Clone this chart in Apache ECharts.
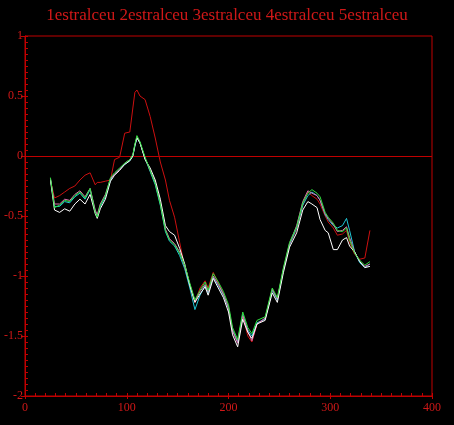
<!DOCTYPE html>
<html><head><meta charset="utf-8">
<script src="https://cdn.jsdelivr.net/npm/echarts@6/dist/echarts.min.js"></script>
<style>html,body{margin:0;padding:0;background:#000;}#c{width:454px;height:425px;}</style>
</head><body><div id="c"></div>
<script>
const titleText = "1estralceu 2estralceu 3estralceu 4estralceu 5estralceu";
const xTicks = [0, 100, 200, 300, 400];
const yTicks = [-2, -1.5, -1, -0.5, 0, 0.5, 1];
const days = [25,29,34,39,44,49,54,59,64,69,71,74,79,84,88,93,98,103,106,108,110,113,118,123,128,133,138,142,147,152,157,162,167,172,177,180,185,190,195,200,204,209,214,219,223,228,236,243,248,254,260,267,273,278,282,287,290,295,298,303,307,312,316,319,324,329,334,339];
const s1 = [-0.20,-0.35,-0.33,-0.30,-0.27,-0.25,-0.20,-0.16,-0.14,-0.24,-0.22,-0.22,-0.21,-0.20,-0.03,-0.01,0.19,0.20,0.40,0.53,0.55,0.50,0.47,0.33,0.15,-0.05,-0.20,-0.37,-0.51,-0.72,-0.93,-1.08,-1.22,-1.10,-1.04,-1.10,-0.97,-1.06,-1.15,-1.27,-1.45,-1.55,-1.33,-1.50,-1.55,-1.40,-1.36,-1.12,-1.19,-0.95,-0.74,-0.61,-0.41,-0.30,-0.33,-0.36,-0.40,-0.50,-0.55,-0.60,-0.66,-0.65,-0.62,-0.72,-0.82,-0.86,-0.85,-0.62];
const s2 = [-0.19,-0.42,-0.42,-0.38,-0.39,-0.34,-0.31,-0.36,-0.28,-0.46,-0.50,-0.42,-0.34,-0.20,-0.15,-0.11,-0.07,-0.04,0.00,0.08,0.15,0.11,-0.02,-0.13,-0.24,-0.41,-0.63,-0.71,-0.75,-0.83,-0.94,-1.10,-1.28,-1.16,-1.08,-1.14,-1.01,-1.08,-1.16,-1.27,-1.45,-1.55,-1.32,-1.45,-1.50,-1.39,-1.36,-1.12,-1.20,-0.95,-0.74,-0.60,-0.41,-0.33,-0.30,-0.33,-0.37,-0.49,-0.53,-0.58,-0.60,-0.58,-0.52,-0.62,-0.80,-0.89,-0.93,-0.90];
const s3 = [-0.18,-0.43,-0.41,-0.37,-0.38,-0.33,-0.30,-0.35,-0.27,-0.47,-0.51,-0.41,-0.33,-0.18,-0.14,-0.10,-0.06,-0.03,0.01,0.10,0.17,0.12,-0.01,-0.12,-0.23,-0.40,-0.62,-0.70,-0.74,-0.81,-0.91,-1.06,-1.20,-1.12,-1.05,-1.12,-0.98,-1.05,-1.13,-1.24,-1.43,-1.53,-1.30,-1.43,-1.48,-1.37,-1.34,-1.10,-1.18,-0.93,-0.72,-0.59,-0.39,-0.31,-0.28,-0.31,-0.34,-0.47,-0.51,-0.56,-0.62,-0.63,-0.60,-0.70,-0.81,-0.87,-0.91,-0.88];
const s4 = [-0.20,-0.45,-0.47,-0.44,-0.46,-0.40,-0.36,-0.40,-0.32,-0.48,-0.52,-0.44,-0.36,-0.21,-0.16,-0.12,-0.07,-0.04,0.00,0.09,0.15,0.11,-0.03,-0.10,-0.20,-0.36,-0.58,-0.63,-0.66,-0.77,-0.90,-1.08,-1.22,-1.15,-1.09,-1.16,-1.02,-1.10,-1.18,-1.30,-1.49,-1.59,-1.36,-1.47,-1.52,-1.40,-1.37,-1.14,-1.22,-0.97,-0.76,-0.64,-0.45,-0.38,-0.40,-0.43,-0.53,-0.62,-0.64,-0.78,-0.78,-0.70,-0.68,-0.75,-0.80,-0.88,-0.93,-0.92];
const s5 = [-0.19,-0.40,-0.40,-0.36,-0.37,-0.32,-0.29,-0.34,-0.27,-0.45,-0.49,-0.40,-0.32,-0.19,-0.15,-0.11,-0.06,-0.03,0.01,0.09,0.16,0.11,-0.02,-0.12,-0.22,-0.39,-0.61,-0.69,-0.73,-0.80,-0.92,-1.07,-1.21,-1.13,-1.07,-1.13,-1.00,-1.07,-1.15,-1.26,-1.46,-1.56,-1.33,-1.46,-1.54,-1.40,-1.35,-1.11,-1.19,-0.94,-0.73,-0.58,-0.38,-0.29,-0.31,-0.33,-0.37,-0.48,-0.52,-0.57,-0.63,-0.62,-0.59,-0.68,-0.80,-0.88,-0.92,-0.90];

const seriesNames = ["1estralceu","2estralceu","3estralceu","4estralceu","5estralceu"];
const seriesVals = [s1, s2, s5, s4, s3];
const seriesColors = ["#cc1010", "#20c8d8", "#e070b0", "#ffffff", "#30e040"];
const axisRed = "#c00000";
const textRed = "#d01818";
const font = "'Liberation Serif', 'DejaVu Serif', serif";

const xMin = xTicks[0], xMax = xTicks[xTicks.length-1];
const yMin = yTicks[0], yMax = yTicks[yTicks.length-1];

const chart = echarts.init(document.getElementById('c'), null, {renderer: 'canvas'});
const series = seriesVals.map((vals, i) => ({
  name: seriesNames[i], type: 'line', showSymbol: false, symbol: 'none',
  xAxisIndex: 0, yAxisIndex: 0,
  data: days.map((d, j) => [d, vals[j]]),
  lineStyle: {color: seriesColors[i], width: 1},
  itemStyle: {color: seriesColors[i]},
  animation: false, z: 3 + i
}));
series.push({
  type: 'line', data: [], animation: false, xAxisIndex: 0, yAxisIndex: 0,
  markLine: {silent: true, symbol: 'none', label: {show: false}, animation: false,
    lineStyle: {color: axisRed, width: 1, type: 'solid'}, data: [{yAxis: 0}]}
});
// dummy series bound to the tick-only axes so they are laid out
series.push({type: 'line', data: [[xMin, yMin]], xAxisIndex: 1, yAxisIndex: 1,
  showSymbol: false, symbol: 'none', lineStyle: {opacity: 0}, animation: false, silent: true});

function tickAxis(pos, min, max, interval, len, offset) {
  return {type: 'value', position: pos, offset: offset, min: min, max: max, interval: interval,
    axisLine: {show: false, onZero: false},
    axisTick: {show: true, inside: false, length: len, lineStyle: {color: axisRed, width: 1}},
    splitLine: {show: false}, axisLabel: {show: false}};
}
chart.setOption({
  backgroundColor: '#000',
  animation: false,
  title: {text: titleText, left: 'center', top: 2,
    textStyle: {color: textRed, fontFamily: font, fontWeight: 'normal', fontSize: 17}},
  grid: {left: 25, right: 22, top: 36, bottom: 29, show: true, borderColor: axisRed, borderWidth: 1, backgroundColor: 'transparent'},
  xAxis: [{type: 'value', min: xMin, max: xMax, interval: 100,
    axisLine: {show: true, onZero: false, lineStyle: {color: axisRed}},
    axisTick: {show: true, inside: false, length: 3, lineStyle: {color: axisRed, width: 1}},
    splitLine: {show: false},
    axisLabel: {color: textRed, fontFamily: font, fontSize: 12, margin: 6}},
    tickAxis('bottom', xMin, xMax, 10, 3, -3)],
  yAxis: [{type: 'value', min: yMin, max: yMax, interval: 0.5,
    axisLine: {show: true, onZero: false, lineStyle: {color: axisRed}},
    axisTick: {show: true, inside: false, length: 4, lineStyle: {color: axisRed, width: 1}},
    splitLine: {show: false},
    axisLabel: {color: textRed, fontFamily: font, fontSize: 12, margin: 2,
      formatter: v => String(v)}},
    tickAxis('left', yMin, yMax, 0.05, 3, -3)],
  series: series
});
</script></body></html>
